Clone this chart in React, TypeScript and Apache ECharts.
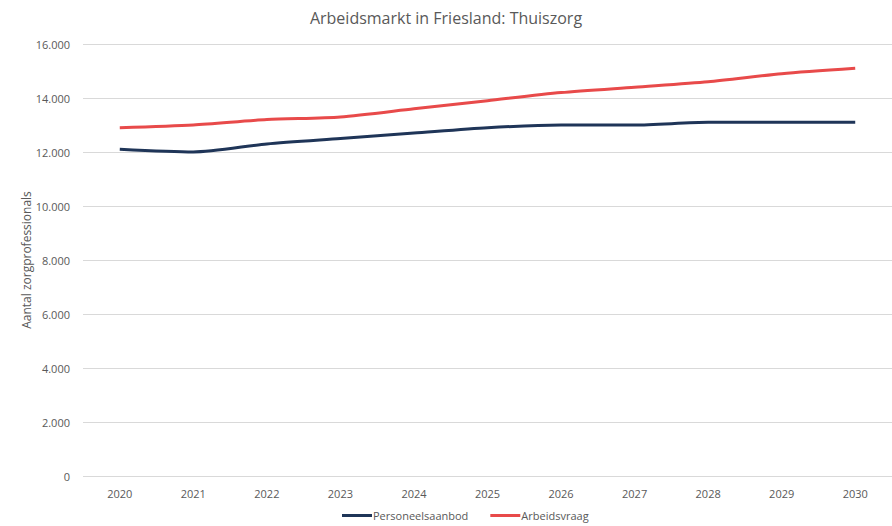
import React, { useEffect, useRef } from "react";
import * as echarts from "echarts";

const years = ["2020", "2021", "2022", "2023", "2024", "2025", "2026", "2027", "2028", "2029", "2030"];
const personeelsaanbod = [12100, 12000, 12300, 12500, 12700, 12900, 13000, 13000, 13100, 13100, 13100];
const arbeidsvraag = [12900, 13000, 13200, 13300, 13600, 13900, 14200, 14400, 14600, 14900, 15100];

const FONT = "'Open Sans', 'Noto Sans', sans-serif";
const TXT = "#595959";

export default function App() {
  const ref = useRef<HTMLDivElement>(null);
  useEffect(() => {
    if (!ref.current) return;
    const chart = echarts.init(ref.current, undefined, { renderer: "svg" });
    chart.setOption({
      animation: false,
      backgroundColor: "#ffffff",
      textStyle: { fontFamily: FONT },
      title: {
        text: "Arbeidsmarkt in Friesland: Thuiszorg",
        left: "center",
        top: 5,
        textStyle: { fontFamily: FONT, fontSize: 16, fontWeight: "normal", color: TXT },
      },
      legend: {
        bottom: 0,
        left: 337,
        itemWidth: 30,
        itemHeight: 3,
        itemGap: 22,
        icon: "rect",
        textStyle: { fontFamily: FONT, fontSize: 11, color: TXT, padding: [0, 0, 0, -4] },
        data: ["Personeelsaanbod", "Arbeidsvraag"],
      },
      grid: { left: 83, right: 0, top: 44, bottom: 50, containLabel: false },
      xAxis: {
        type: "category",
        data: years,
        boundaryGap: true,
        axisLine: { show: false },
        axisTick: { show: false },
        axisLabel: { color: TXT, fontSize: 11, fontFamily: FONT, margin: 12 },
      },
      yAxis: {
        type: "value",
        min: 0,
        max: 16000,
        interval: 2000,
        name: "Aantal zorgprofessionals",
        nameLocation: "middle",
        nameGap: 51,
        nameMoveOverlap: false,
        nameTextStyle: { color: TXT, fontSize: 12, fontFamily: FONT },
        axisLine: { show: false },
        axisTick: { show: false },
        axisLabel: {
          color: TXT,
          fontSize: 11,
          fontFamily: FONT,
          margin: 13,
          formatter: (v: number) => (v === 0 ? "0" : v.toLocaleString("de-DE")),
        },
        splitLine: { lineStyle: { color: "#d9d9d9", width: 1 } },
      },
      series: [
        {
          name: "Personeelsaanbod",
          type: "line",
          data: personeelsaanbod,
          smooth: 0.25,
          symbol: "none",
          lineStyle: { color: "#1f3558", width: 3 },
          itemStyle: { color: "#1f3558" },
        },
        {
          name: "Arbeidsvraag",
          type: "line",
          data: arbeidsvraag,
          smooth: 0.25,
          symbol: "none",
          lineStyle: { color: "#e84a4a", width: 3 },
          itemStyle: { color: "#e84a4a" },
        },
      ],
    });
    return () => chart.dispose();
  }, []);
  return <div ref={ref} style={{ width: 892, height: 526, position: "fixed", left: 0, top: 0 }} />;
}
